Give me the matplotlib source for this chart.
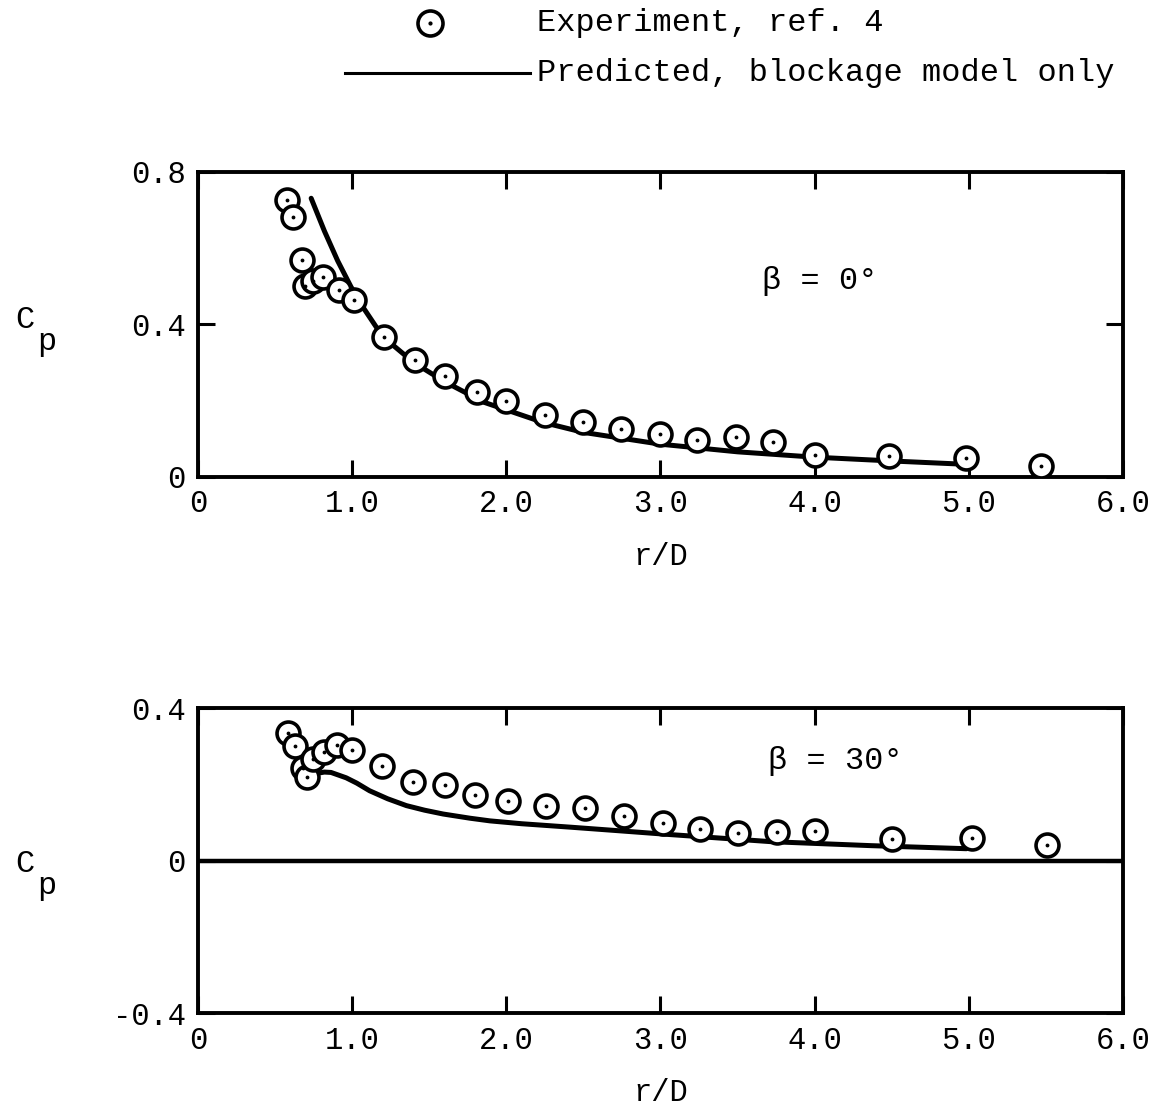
import matplotlib
matplotlib.use("Agg")
import matplotlib.pyplot as plt
from matplotlib.lines import Line2D

plt.rcParams['font.family'] = ['Liberation Mono', 'DejaVu Sans Mono']

# beta = 0 deg, experiment (ref. 4)
exp0_r = [0.578, 0.615, 0.673, 0.695, 0.749, 0.813, 0.917, 1.01, 1.208, 1.409,
          1.60, 1.81, 1.995, 2.254, 2.50, 2.744, 2.995, 3.24, 3.49, 3.73,
          4.0, 4.48, 4.98, 5.47]
exp0_cp = [0.727, 0.682, 0.570, 0.502, 0.513, 0.525, 0.491, 0.464, 0.367, 0.308,
           0.265, 0.223, 0.198, 0.163, 0.145, 0.127, 0.112, 0.097, 0.105, 0.092,
           0.058, 0.054, 0.050, 0.030]

# beta = 0 deg, predicted
pred0_r = [0.734, 0.82, 0.906, 0.992, 1.079, 1.165, 1.208, 1.40, 1.60, 1.855,
           2.24, 2.5, 3.0, 3.5, 4.0, 4.5, 4.94]
pred0_cp = [0.731, 0.645, 0.567, 0.499, 0.440, 0.388, 0.365, 0.300, 0.250, 0.196,
            0.143, 0.117, 0.086, 0.066, 0.052, 0.042, 0.034]

# beta = 30 deg, experiment
exp30_r = [0.581, 0.631, 0.679, 0.707, 0.748, 0.82, 0.903, 1.0, 1.196, 1.395,
           1.605, 1.796, 2.01, 2.258, 2.512, 2.766, 3.015, 3.256, 3.506, 3.755,
           4.003, 4.50, 5.02, 5.51]
exp30_cp = [0.334, 0.301, 0.243, 0.220, 0.267, 0.284, 0.302, 0.291, 0.249, 0.206,
            0.197, 0.171, 0.157, 0.142, 0.137, 0.116, 0.098, 0.083, 0.073, 0.074,
            0.077, 0.057, 0.059, 0.042]

# beta = 30 deg, predicted
pred30_r = [0.776, 0.82, 0.863, 0.961, 1.03, 1.113, 1.23, 1.352, 1.47, 1.59,
            1.764, 1.894, 2.1, 2.415, 2.7, 3.065, 3.716, 4.367, 4.985]
pred30_cp = [0.229, 0.232, 0.231, 0.217, 0.203, 0.183, 0.162, 0.144, 0.132, 0.122,
             0.111, 0.104, 0.0965, 0.0875, 0.079, 0.068, 0.0495, 0.039, 0.031]

xticks = [0, 1, 2, 3, 4, 5, 6]
xtick_labels = ['0', '1.0', '2.0', '3.0', '4.0', '5.0', '6.0']

FS = 22     # tick labels, axis labels
FS_T = 23   # legend and beta notes


def style_axes(ax):
    for s in ax.spines.values():
        s.set_linewidth(2.8)
    ax.tick_params(direction='in', length=12, width=2.2, labelsize=FS,
                   top=True, right=True, pad=9)
    ax.set_xlim(0, 6)
    ax.set_xticks(xticks)
    ax.set_xticklabels(xtick_labels)
    ax.set_xlabel('r/D', fontsize=FS, labelpad=16)


def draw_points(ax, r, cp):
    ax.plot(r, cp, 'o', ms=16.5, mfc='white', mec='black', mew=2.6, zorder=3)
    ax.plot(r, cp, '.', ms=3.5, color='black', zorder=4)


fig = plt.figure(figsize=(11.62, 11.08), dpi=100)

# top panel
ax1 = fig.add_axes([0.1704, 0.5695, 0.796, 0.2753])
ax1.plot(pred0_r, pred0_cp, '-', color='black', lw=3.6, zorder=2,
         solid_capstyle='round', solid_joinstyle='round')
draw_points(ax1, exp0_r, exp0_cp)
ax1.set_ylim(0, 0.8)
ax1.set_yticks([0, 0.4, 0.8])
ax1.set_yticklabels(['0', '0.4', '0.8'])
style_axes(ax1)
ax1.text(3.66, 0.515, 'β = 0°', fontsize=FS_T, va='center')

# bottom panel
ax2 = fig.add_axes([0.1704, 0.0857, 0.796, 0.2753])
ax2.axhline(0, color='black', lw=3.2, zorder=1)
ax2.plot(pred30_r, pred30_cp, '-', color='black', lw=3.6, zorder=2,
         solid_capstyle='round', solid_joinstyle='round')
draw_points(ax2, exp30_r, exp30_cp)
ax2.set_ylim(-0.4, 0.4)
ax2.set_yticks([-0.4, 0, 0.4])
ax2.set_yticklabels(['-0.4', '0', '0.4'])
style_axes(ax2)
ax2.text(3.7, 0.26, 'β = 30°', fontsize=FS_T, va='center')

# C_p labels
for yc in [1 - 320 / 1108, 1 - 864 / 1108]:
    fig.text(0.013, yc, 'C', fontsize=FS_T, ha='left', va='center')
    fig.text(0.032, yc - 0.02, 'p', fontsize=FS_T, ha='left', va='center')

# legend
fig.add_artist(Line2D([430 / 1162], [1 - 23 / 1108], marker='o', ms=18,
                      mfc='white', mec='black', mew=2.6, transform=fig.transFigure))
fig.add_artist(Line2D([430 / 1162], [1 - 23 / 1108], marker='.', ms=4,
                      color='black', transform=fig.transFigure))
fig.text(537 / 1162, 1 - 23 / 1108, 'Experiment, ref. 4', fontsize=FS_T,
         ha='left', va='center')
fig.add_artist(Line2D([345 / 1162, 530 / 1162], [1 - 73 / 1108, 1 - 73 / 1108],
                      color='black', lw=2.2, transform=fig.transFigure))
fig.text(537 / 1162, 1 - 73 / 1108, 'Predicted, blockage model only', fontsize=FS_T,
         ha='left', va='center')

fig.savefig('out.png', dpi=100, facecolor='white')
